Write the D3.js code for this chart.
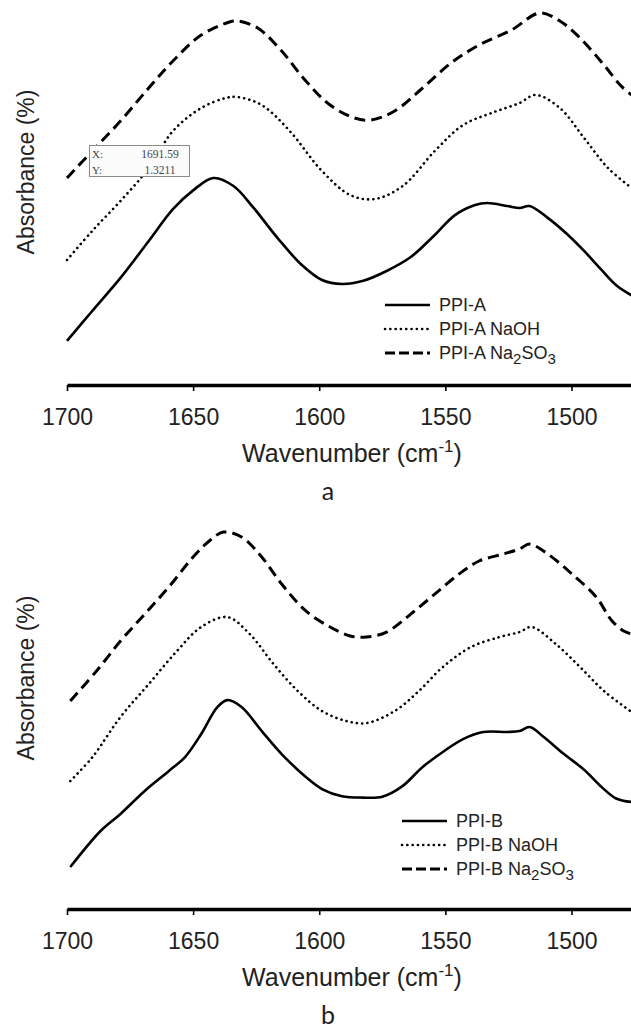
<!DOCTYPE html>
<html><head><meta charset="utf-8">
<script src="https://cdn.jsdelivr.net/npm/d3@7"></script>
<style>body{margin:0;background:#fff}svg{display:block}</style>
</head><body>
<script>
// ---------- data ----------
const tickValues = [1700, 1650, 1600, 1550, 1500];

// Panel a
const wnA_plain = [1700,1690,1678.8,1667.6,1658,1650,1642,1634,1626,1616.5,1606.9,1598.9,1591,1582.9,1573.3,1563.7,1554.2,1546.2,1538.2,1533.4,1525.4,1520.6,1516.6,1509.4,1502,1495,1488,1482,1476.2];
const absA_plain = [0.253,0.425,0.615,0.827,1.010,1.118,1.189,1.143,1.017,0.844,0.689,0.603,0.580,0.597,0.655,0.735,0.862,0.976,1.034,1.045,1.028,1.017,1.028,0.960,0.870,0.770,0.660,0.570,0.515];
const wnA_naoh = [1700,1690,1678.8,1667.6,1658,1646.8,1637.2,1632.4,1622.8,1611.7,1598.9,1587.7,1578.1,1566.9,1554.2,1543,1531.8,1520.6,1514.2,1504.6,1495,1485.5,1476.2];
const absA_naoh = [0.718,0.885,1.057,1.246,1.459,1.591,1.648,1.654,1.608,1.459,1.229,1.091,1.068,1.143,1.344,1.493,1.562,1.620,1.666,1.591,1.419,1.246,1.132];
const wnA_sulf = [1700,1690,1678.8,1667.6,1658,1646.8,1635.6,1632.4,1624.4,1614.9,1605.3,1595.7,1586.1,1579.7,1570.1,1559,1547.8,1536.6,1523.8,1512.6,1504.6,1496.6,1487.1,1480.7,1476.2];
const absA_sulf = [1.189,1.344,1.516,1.706,1.861,2.010,2.085,2.091,2.051,1.918,1.746,1.608,1.534,1.522,1.574,1.706,1.849,1.953,2.039,2.137,2.091,1.993,1.838,1.723,1.666];

// Panel b
const wnB_plain = [1698.7,1686.7,1678.8,1669.2,1659.6,1653.2,1646.8,1640.4,1636.4,1630.8,1622.8,1614.9,1605.3,1598.9,1591,1582.9,1575,1567,1559,1551,1543,1535,1525.4,1520.6,1516.6,1511,1503,1495,1488,1482.3,1476.2];
const absB_plain = [0.241,0.448,0.546,0.678,0.793,0.873,1.005,1.160,1.200,1.160,1.022,0.890,0.758,0.689,0.648,0.640,0.645,0.706,0.816,0.902,0.976,1.017,1.017,1.022,1.045,0.988,0.890,0.800,0.700,0.635,0.615];
const wnB_naoh = [1698.7,1689.9,1678.8,1667.6,1656.4,1646.8,1636.4,1627.6,1618.1,1608.5,1598.9,1589.3,1581.3,1570.1,1560.5,1551,1539.8,1528.6,1520.6,1515.8,1506.2,1496.6,1487.1,1476.2];
const absB_naoh = [0.735,0.873,1.103,1.292,1.482,1.620,1.677,1.580,1.407,1.252,1.137,1.080,1.068,1.137,1.252,1.390,1.505,1.562,1.591,1.620,1.522,1.390,1.252,1.132];
const wnB_sulf = [1698.7,1688.3,1678.8,1669.2,1659.6,1650,1643.6,1638,1630.8,1622.8,1614.9,1605.3,1595.7,1587.7,1581.3,1573.3,1563.7,1554.2,1544.6,1536.6,1527,1520.6,1516.6,1509.4,1499.8,1490.2,1483.9,1479.1,1476.2];
const absB_sulf = [1.195,1.367,1.539,1.694,1.850,2.022,2.114,2.165,2.137,2.022,1.867,1.712,1.620,1.568,1.562,1.591,1.694,1.809,1.924,1.999,2.039,2.068,2.096,2.039,1.924,1.792,1.654,1.595,1.580];

const legendA = ["PPI-A", "PPI-A NaOH", "PPI-A Na"];
const legendB = ["PPI-B", "PPI-B NaOH", "PPI-B Na"];
const tooltipX = "1691.59", tooltipY = "1.3211";

// ---------- drawing ----------
const W = 631, H = 1033;
const svg = d3.select("body").append("svg").attr("width", W).attr("height", H);
const x = d3.scaleLinear().domain([1700, 1476.4]).range([67, 631]);
const styles = [
  {dash: null, width: 2.6, cap: "butt"},
  {dash: "0.1 5.2", width: 2.6, cap: "round"},
  {dash: "11 6", width: 3, cap: "butt"}
];
const FONT = "'Liberation Sans', Arial, sans-serif";

function zip(w, a) { return w.map((v, i) => ({wn: v, ab: a[i]})); }

function panel(cfg) {
  const g = svg.append("g");
  const y = d3.scaleLinear().domain([0, 2.2]).range([cfg.axisY, cfg.axisY - 383]);
  const line = d3.line().x(d => x(d.wn)).y(d => y(d.ab)).curve(d3.curveCatmullRom.alpha(0.5));
  const clipId = "clip" + cfg.id;
  svg.append("clipPath").attr("id", clipId).append("rect")
    .attr("x", 60).attr("y", cfg.axisY - 400).attr("width", 571).attr("height", 400);
  cfg.series.forEach((s, i) => {
    g.append("path").attr("d", line(zip(s[0], s[1])))
      .attr("clip-path", `url(#${clipId})`)
      .attr("fill", "none").attr("stroke", "#000")
      .attr("stroke-width", styles[i].width)
      .attr("stroke-linecap", styles[i].cap)
      .attr("stroke-linejoin", "round")
      .attr("stroke-dasharray", styles[i].dash);
  });

  // x axis
  const ax = g.append("g").attr("transform", `translate(0,${cfg.axisY})`)
    .call(d3.axisBottom(x).tickValues(tickValues).tickSize(6).tickSizeOuter(0).tickPadding(18).tickFormat(d3.format("d")));
  ax.select(".domain").attr("stroke", "#000").attr("stroke-width", 3.5);
  ax.selectAll(".tick line").attr("stroke", "#000").attr("stroke-width", 1.6);
  ax.selectAll(".tick text").attr("font-family", FONT).attr("font-size", 23).attr("fill", "#222");

  // x title
  const t = g.append("text").attr("x", 352).attr("y", cfg.axisY + 77)
    .attr("text-anchor", "middle").attr("font-family", FONT).attr("font-size", 25).attr("fill", "#222");
  t.append("tspan").text("Wavenumber (cm");
  t.append("tspan").attr("font-size", 17).attr("dy", -10).text("-1");
  t.append("tspan").attr("dy", 10).text(")");

  // panel letter
  g.append("text").attr("x", 328).attr("y", cfg.axisY + 115).attr("text-anchor", "middle")
    .attr("font-family", "Lato, 'Open Sans', sans-serif").attr("font-size", 25).attr("fill", "#222").text(cfg.letter);

  // y title
  g.append("text").attr("transform", `translate(26,${cfg.yLabelY}) rotate(-90)`)
    .attr("text-anchor", "middle").attr("dy", "0.35em")
    .attr("font-family", FONT).attr("font-size", 23).attr("fill", "#222").text("Absorbance (%)");

  // legend
  cfg.legend.forEach((lab, i) => {
    const ly = cfg.legY + i * 24;
    g.append("line").attr("x1", cfg.legX).attr("x2", cfg.legX + 45).attr("y1", ly).attr("y2", ly)
      .attr("stroke", "#000").attr("stroke-width", styles[i].width)
      .attr("stroke-linecap", styles[i].cap).attr("stroke-dasharray", i === 2 ? "10 4" : styles[i].dash);
    const tx = g.append("text").attr("x", cfg.legX + 54).attr("y", ly).attr("dy", "0.35em")
      .attr("font-family", FONT).attr("font-size", 18).attr("fill", "#222");
    tx.append("tspan").text(lab);
    if (i === 2) {
      tx.append("tspan").attr("font-size", 15).attr("dy", 5).text("2");
      tx.append("tspan").attr("font-size", 18).attr("dy", -5).text("SO");
      tx.append("tspan").attr("font-size", 15).attr("dy", 5).text("3");
    }
  });
}

panel({id: "a", axisY: 385, letter: "a", yLabelY: 172, legX: 385, legY: 305,
  legend: legendA,
  series: [[wnA_plain, absA_plain], [wnA_naoh, absA_naoh], [wnA_sulf, absA_sulf]]});
panel({id: "b", axisY: 909, letter: "b", yLabelY: 678, legX: 402, legY: 821,
  legend: legendB,
  series: [[wnB_plain, absB_plain], [wnB_naoh, absB_naoh], [wnB_sulf, absB_sulf]]});

// data tooltip box in panel a
const tip = svg.append("g");
tip.append("rect").attr("x", 89.5).attr("y", 145.5).attr("width", 100).attr("height", 31)
  .attr("fill", "#fbfbfb").attr("stroke", "#8a8a8a").attr("stroke-width", 1);
const TF = "'Liberation Serif', 'DejaVu Serif', serif";
tip.append("text").attr("x", 92).attr("y", 158).attr("font-family", TF).attr("font-size", 11).attr("fill", "#444").text("X:");
tip.append("text").attr("x", 92).attr("y", 174).attr("font-family", TF).attr("font-size", 11).attr("fill", "#444").text("Y:");
tip.append("text").attr("x", 160).attr("y", 158).attr("text-anchor", "middle").attr("font-family", TF).attr("font-size", 11.5).attr("fill", "#444").text(tooltipX);
tip.append("text").attr("x", 160).attr("y", 174).attr("text-anchor", "middle").attr("font-family", TF).attr("font-size", 11.5).attr("fill", "#444").text(tooltipY);
</script>
</body></html>
